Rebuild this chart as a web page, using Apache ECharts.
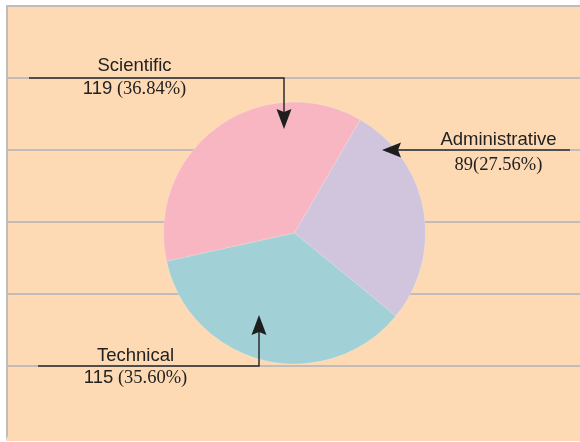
<!DOCTYPE html>
<html>
<head>
<meta charset="utf-8">
<script src="https://cdn.jsdelivr.net/npm/echarts@6/dist/echarts.min.js"></script>
<style>
  html, body { margin: 0; padding: 0; background: #fff; }
  #chart { width: 580px; height: 442px; }
</style>
</head>
<body>
<div id="chart"></div>
<script>
// data
const categories = ['Scientific', 'Administrative', 'Technical']
const values = [119, 89, 115]
const percentLabels = ['36.84%', '27.56%', '35.60%']
const colors = ['#f7b6c2', '#d1c4dd', '#a1d1d6']

// callout layout (pixel positions of the annotation text and arrows)
const callouts = [
  {
    x: 134.5, nameY: 65.5, numY: 89, numSerif: false, gap: ' ',
    line: [[29, 78], [284, 78], [284, 112]],
    arrow: [[284, 129], [276.5, 109], [284, 112], [291.5, 109]],
  },
  {
    x: 498.5, nameY: 140, numY: 165.5, numSerif: true, gap: '',
    line: [[398, 150], [570, 150]],
    arrow: [[382, 150], [401, 142.5], [398, 150], [401, 157.5]],
  },
  {
    x: 135.5, nameY: 356, numY: 378, numSerif: false, gap: ' ',
    line: [[38, 366], [259, 366], [259, 332]],
    arrow: [[259, 315], [251.5, 335], [259, 332], [266.5, 335]],
  },
]

const chart = echarts.init(document.getElementById('chart'))

const buildCallouts = () => {
  const items = []
  callouts.forEach((c, i) => {
    items.push({
      type: 'polyline',
      z: 10,
      shape: { points: c.line },
      style: { stroke: '#2b2b2b', lineWidth: 1.5, fill: null },
    })
    items.push({
      type: 'polygon',
      z: 11,
      shape: { points: c.arrow },
      style: { fill: '#1e1e1e' },
    })
    items.push({
      type: 'text',
      z: 12,
      x: c.x,
      y: c.nameY,
      style: {
        text: categories[i],
        fill: '#222',
        font: '18.5px "Liberation Sans", Arial, sans-serif',
        align: 'center',
        verticalAlign: 'middle',
      },
    })
    items.push({
      type: 'text',
      z: 12,
      x: c.x,
      y: c.numY,
      style: {
        text: `{n|${values[i]}}${c.gap}{p|(${percentLabels[i]})}`,
        align: 'center',
        verticalAlign: 'middle',
        rich: {
          n: {
            fill: '#222',
            fontSize: 18.5,
            fontFamily: c.numSerif ? '"Liberation Serif", "Times New Roman", serif' : '"Liberation Sans", Arial, sans-serif',
          },
          p: {
            fill: '#222',
            fontSize: 18.5,
            fontFamily: '"Liberation Serif", "Times New Roman", serif',
          },
        },
        fill: '#222',
        fontSize: 18.5,
        fontFamily: '"Liberation Serif", serif',
      },
    })
  })
  // page margins outside the frame (white), and the frame's open bottom edge
  items.push({ type: 'rect', z: 20, shape: { x: 7, y: 436.5, width: 573, height: 4.5 }, style: { fill: '#fddab4' } })
  items.push({ type: 'rect', z: 20, shape: { x: 0, y: 441, width: 580, height: 1 }, style: { fill: '#fff' } })
  items.push({ type: 'rect', z: 20, shape: { x: 0, y: 0, width: 580, height: 5 }, style: { fill: '#fff' } })
  items.push({ type: 'rect', z: 20, shape: { x: 0, y: 0, width: 6, height: 442 }, style: { fill: '#fff' } })
  return items
}

chart.setOption({
  animation: false,
  backgroundColor: '#fddab4',
  grid: { left: 7, top: 6, right: 0, bottom: 4 },
  xAxis: { type: 'value', show: false, min: 0, max: 1 },
  yAxis: {
    type: 'value',
    min: 0,
    max: 6,
    interval: 1,
    axisLabel: { show: false },
    axisTick: { show: false },
    axisLine: { show: true, lineStyle: { color: '#bdbdbd', width: 2 } },
    splitLine: {
      show: true,
      showMinLine: false,
      showMaxLine: true,
      lineStyle: { color: '#aeb0b8', width: 1.5 },
    },
  },
  series: [
    {
      type: 'pie',
      silent: true,
      center: [294.5, 233],
      radius: 131,
      startAngle: 192.5,
      clockwise: true,
      label: { show: false },
      labelLine: { show: false },
      emphasis: { disabled: true },
      itemStyle: { borderColor: 'rgba(255,255,255,0.35)', borderWidth: 0.5 },
      data: categories.map((name, i) => ({
        name,
        value: values[i],
        itemStyle: { color: colors[i] },
      })),
    },
  ],
  graphic: buildCallouts(),
})
</script>
</body>
</html>
